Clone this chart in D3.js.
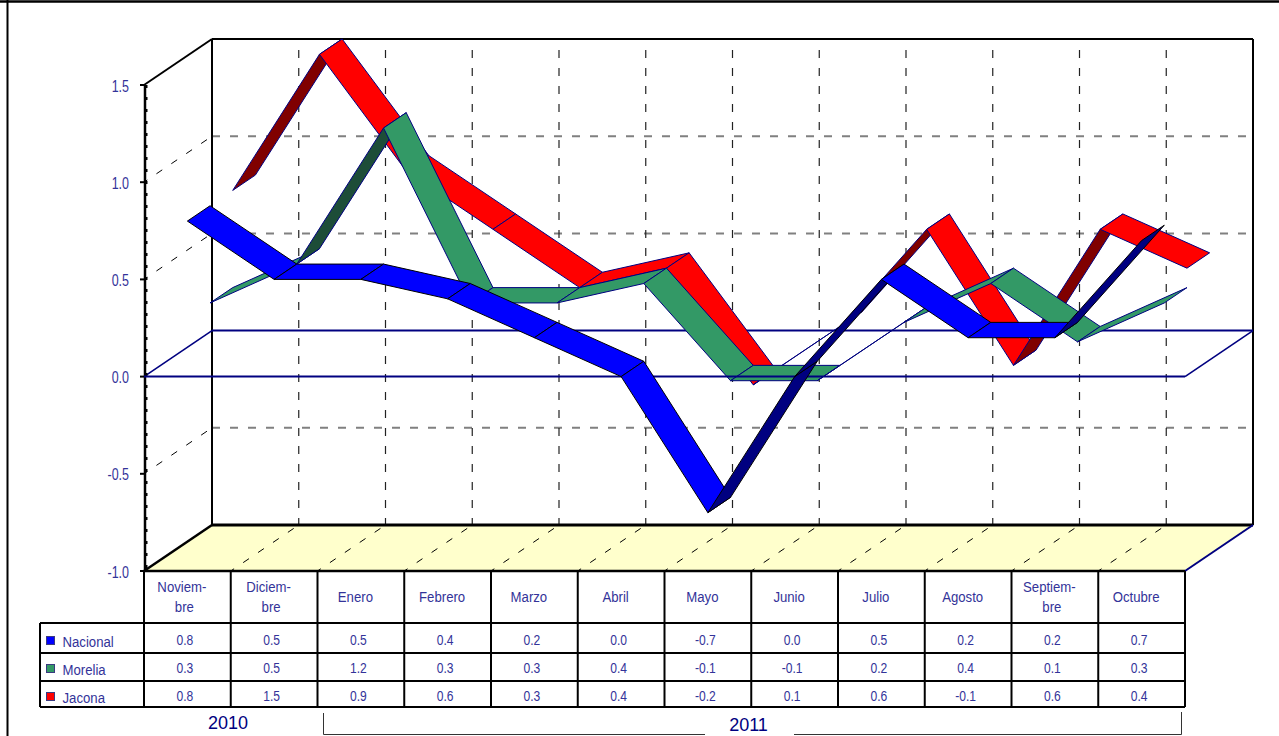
<!DOCTYPE html>
<html>
<head>
<meta charset="utf-8">
<script src="https://cdn.jsdelivr.net/npm/d3@7/dist/d3.min.js"></script>
<style>
  html, body { margin: 0; padding: 0; background: #fff; }
  svg { display: block; }
  text { font-family: "Liberation Sans", Arial, sans-serif; fill: #333399; }
  .year { fill: #000080; font-size: 18px; }
</style>
</head>
<body>
<script>
// chart data
const categories = ["Noviem-\nbre", "Diciem-\nbre", "Enero", "Febrero", "Marzo", "Abril", "Mayo", "Junio", "Julio", "Agosto", "Septiem-\nbre", "Octubre"];
const nacional = [0.8, 0.5, 0.5, 0.4, 0.2, 0.0, -0.7, 0.0, 0.5, 0.2, 0.2, 0.7];
const morelia = [0.3, 0.5, 1.2, 0.3, 0.3, 0.4, -0.1, -0.1, 0.2, 0.4, 0.1, 0.3];
const jacona = [0.8, 1.5, 0.9, 0.6, 0.3, 0.4, -0.2, 0.1, 0.6, -0.1, 0.6, 0.4];
const seriesNames = ["Nacional", "Morelia", "Jacona"];
const seriesValues = [nacional, morelia, jacona];
const yTicks = [-1.0, -0.5, 0.0, 0.5, 1.0, 1.5];
const years = ["2010", "2011"];

const seriesStyle = [
  { fill: "#0000ff", dark: "#000080", stroke: "#000000", swatch: "#0000ff" },
  { fill: "#339966", dark: "#1d4d38", stroke: "#000080", swatch: "#339966" },
  { fill: "#ff0000", dark: "#800000", stroke: "#000080", swatch: "#ff0000" }
];

const width = 1279, height = 736;
const navy = "#000080";

const svg = d3.select("body").append("svg")
  .attr("width", width)
  .attr("height", height);

// scales for the front plane of the 3d box
const x = d3.scaleBand().domain(d3.range(categories.length)).range([144, 1185]);
const y = d3.scaleLinear().domain([-1, 1.5]).range([571, 85]);
// depth goes 0 (front) to 3 (back wall), one slot for each series
const depthX = d3.scaleLinear().domain([0, 3]).range([0, 68]);
const depthY = d3.scaleLinear().domain([0, 3]).range([0, -46]);

// project a point (category edge in px, value, depth)
function project(px, value, depth) {
  return [px + depthX(depth), y(value) + depthY(depth)];
}

function line(g, a, b, color, w, dash, offset) {
  g.append("line")
    .attr("x1", a[0]).attr("y1", a[1])
    .attr("x2", b[0]).attr("y2", b[1])
    .attr("stroke", color)
    .attr("stroke-width", w)
    .attr("stroke-dasharray", dash || null)
    .attr("stroke-dashoffset", offset || null);
}

// the original text is a squeezed arial, no narrow font here so scale it
function label(g, px, py, str, size, anchor, squeeze) {
  g.append("text")
    .attr("transform", `translate(${px},${py}) scale(${squeeze || 0.78},1)`)
    .attr("text-anchor", anchor || "middle")
    .style("font-size", size + "px")
    .text(str);
}

const fmt = v => d3.format(".1f")(v).replace("\u2212", "-");

const xLeft = x.range()[0], xRight = x.range()[1];
const edges = categories.map((c, i) => x(i)).concat([xRight]);

// outer frame, only top and left are visible
line(svg, [0, 1.5], [width, 1.5], "#000", 2.5);
line(svg, [7.5, 0], [7.5, height], "#000", 2);

// floor
svg.append("polygon")
  .attr("points", [project(xLeft, -1, 0), project(xLeft, -1, 3), project(xRight, -1, 3), project(xRight, -1, 0)].join(" "))
  .attr("fill", "#ffffcc");

const walls = svg.append("g");

// back wall grid
yTicks.filter(t => t != 0 && t != -1 && t != 1.5).forEach(t => {
  line(walls, project(xLeft, t, 3), project(xRight, t, 3), "#808080", 2, "8 10");
  line(walls, project(xLeft, t, 0), project(xLeft, t, 3), "#000", 1, "7 11", 3);
});
edges.slice(1, -1).forEach(e => {
  line(walls, project(e, 1.5, 3), project(e, -1, 3), "#222", 1.2, "8 10", 7);
  line(walls, project(e, -1, 0), project(e, -1, 3), "#000", 1, "7 11", 3);
});

// box edges
line(walls, project(xLeft, 1.5, 0), project(xLeft, 1.5, 3), "#000", 2);
line(walls, project(xLeft, 1.5, 3), project(xRight, 1.5, 3), "#000", 2);
line(walls, project(xLeft, 1.5, 3), project(xLeft, -1, 3), "#000", 2);
line(walls, project(xRight, 1.5, 3), project(xRight, -1, 3), "#000", 2);
line(walls, project(xLeft, -1, 3), project(xRight, -1, 3), "#000", 3);
line(walls, project(xLeft, -1, 0), project(xLeft, -1, 3), "#000", 2.5);
line(walls, project(xRight, -1, 0), project(xRight, -1, 3), navy, 2);

// zero plane, back and side edges go behind the ribbons
line(walls, project(xLeft, 0, 3), project(xRight, 0, 3), navy, 2);
line(walls, project(xLeft, 0, 0), project(xLeft, 0, 3), navy, 1.6);
line(walls, project(xRight, 0, 0), project(xRight, 0, 3), navy, 1.6);

// y axis on the front left edge
const yAxis = svg.append("g");
line(yAxis, [xLeft + 1, y(1.5)], [xLeft + 1, y(-1)], "#000", 2.5);
line(yAxis, [xLeft + 2, y(1.5)], [xLeft + 2, y(-1)], "#000", 3, "3 9");
yTicks.forEach(t => {
  line(yAxis, [xLeft - 4, y(t)], [xLeft, y(t)], "#000", 2);
  label(yAxis, xLeft - 15, y(t) + 6.5, fmt(t), 16, "end");
});

// one ribbon for each series, back to front
function drawRibbon(s) {
  const g = svg.append("g");
  const vals = seriesValues[s], style = seriesStyle[s];
  d3.pairs(vals).forEach((pair, i) => {
    const cx0 = x(i) + x.bandwidth() / 2, cx1 = x(i + 1) + x.bandwidth() / 2;
    const a = project(cx0, pair[0], s), b = project(cx1, pair[1], s);
    const c = project(cx1, pair[1], s + 1), d = project(cx0, pair[0], s + 1);
    // the underside shows when the segment climbs steeper than the depth direction
    const cross = (b[0] - a[0]) * (d[1] - a[1]) - (b[1] - a[1]) * (d[0] - a[0]);
    g.append("polygon")
      .attr("points", [a, b, c, d].join(" "))
      .attr("fill", cross > 0 ? style.dark : style.fill)
      .attr("stroke", style.stroke)
      .attr("stroke-width", 1)
      .attr("stroke-linejoin", "round");
  });
}

drawRibbon(2);
drawRibbon(1);
line(svg, project(xLeft, 0, 0), project(xRight, 0, 0), navy, 2);
drawRibbon(0);

// data table
const table = svg.append("g");
const rowY = d3.scaleOrdinal().domain(["head", 0, 1, 2, "end"]).range([571, 623, 653, 681, 707]);
const tableLeft = 40;

edges.forEach(e => line(table, [e, rowY("head")], [e, rowY("end")], "#000", 2));
line(table, [xLeft, rowY("head")], [xRight, rowY("head")], "#000", 2.5);
line(table, [tableLeft, rowY(0)], [tableLeft, rowY("end")], "#000", 2);
[0, 1, 2, "end"].forEach(r => line(table, [tableLeft, rowY(r)], [xRight, rowY(r)], "#000", 2));

categories.forEach((c, i) => {
  const parts = c.split("\n");
  const cx = x(i) + x.bandwidth() / 2;
  parts.forEach((p, k) => {
    label(table, cx - (k ? 3 : 5.5), parts.length == 1 ? 601.5 : 591.5 + k * 20.5, p, 15.5, "middle", 0.85);
  });
});

const rowBase = [645, 673, 701];
const nameBase = [647, 675, 703];
seriesNames.forEach((name, s) => {
  table.append("rect")
    .attr("x", 46.5).attr("y", rowBase[s] - 8.5)
    .attr("width", 8).attr("height", 8)
    .attr("fill", seriesStyle[s].swatch)
    .attr("stroke", "#3a3a80")
    .attr("stroke-width", 1);
  label(table, 62.5, nameBase[s], name, 15.5, "start", 0.85);
  seriesValues[s].forEach((v, i) => {
    label(table, x(i) + x.bandwidth() / 2 - 2.5, rowBase[s], fmt(v), 15.5);
  });
});

// year labels with the bracket for 2011
svg.append("text").attr("class", "year")
  .attr("x", 228).attr("y", 728.5)
  .attr("text-anchor", "middle")
  .text(years[0]);
svg.append("text").attr("class", "year")
  .attr("x", 748.5).attr("y", 731)
  .attr("text-anchor", "middle")
  .text(years[1]);
svg.append("path")
  .attr("d", d3.line()([[323.5, 713], [323.5, 734.5], [705, 734.5]]))
  .attr("fill", "none").attr("stroke", "#333").attr("stroke-width", 1);
svg.append("path")
  .attr("d", d3.line()([[794, 734.5], [1181.5, 734.5], [1181.5, 712]]))
  .attr("fill", "none").attr("stroke", "#333").attr("stroke-width", 1);
</script>
</body>
</html>
